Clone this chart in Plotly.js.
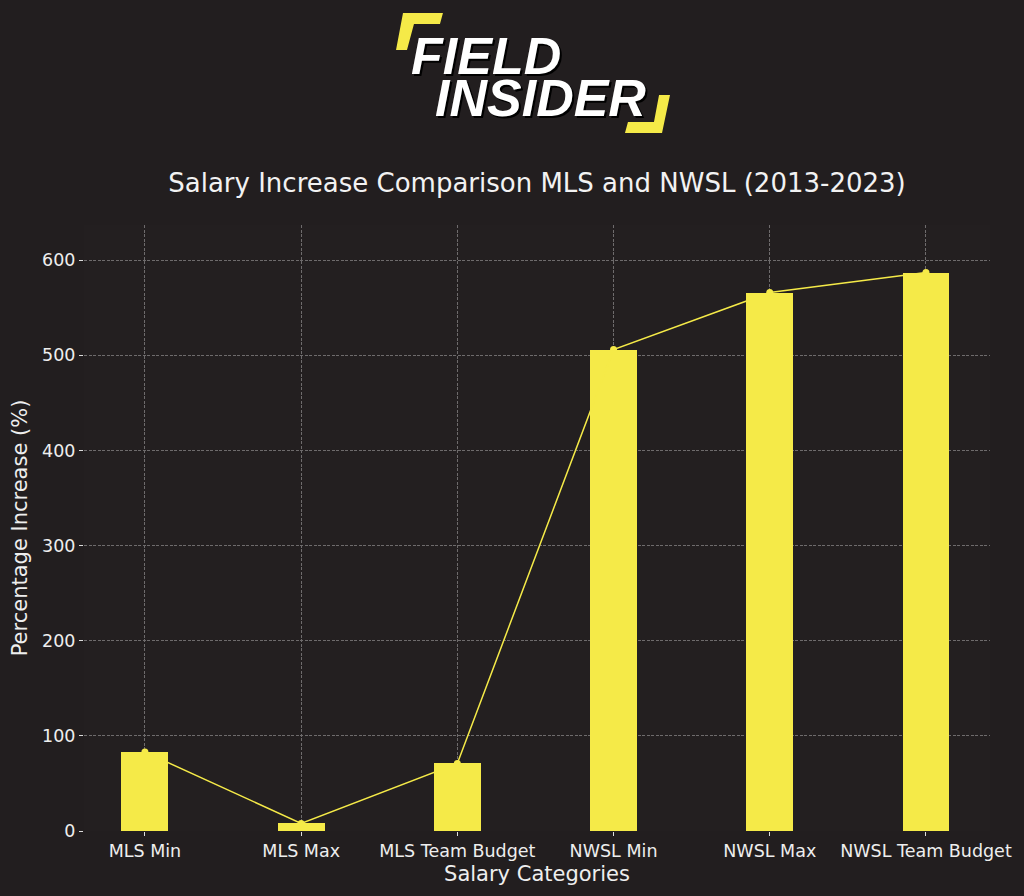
<!DOCTYPE html>
<html>
<head>
<meta charset="utf-8">
<script src="https://cdn.plot.ly/plotly-3.0.1.min.js"></script>
<style>html,body{margin:0;padding:0;background:#221e1f;}#chart{width:1024px;height:896px;}</style>
</head>
<body>
<div id="chart"></div>
<script>
const categories = ["MLS Min", "MLS Max", "MLS Team Budget", "NWSL Min", "NWSL Max", "NWSL Team Budget"];
const percentIncrease = [83, 8, 71, 506, 566, 587];
const yTicks = [0, 100, 200, 300, 400, 500, 600];
const logoLines = ["FIELD", "INSIDER"];

const YELLOW = "#f5ea48";
const W = 1024, H = 896;
const M = {l: 84, r: 34, t: 225, b: 65};
const PW = W - M.l - M.r, PH = H - M.t - M.b;
function px(x) { return (x - M.l) / PW; }
function py(y) { return (H - M.b - y) / PH; }
function poly(pts) {
  return "M" + pts.map(p => px(p[0]).toFixed(4) + "," + py(p[1]).toFixed(4)).join(" L") + " Z";
}

const bars = {
  type: "bar",
  x: categories,
  y: percentIncrease,
  width: 0.3,
  marker: {color: YELLOW, line: {width: 0}},
  hoverinfo: "x+y",
  showlegend: false
};
const line = {
  type: "scatter",
  mode: "lines+markers",
  x: categories,
  y: percentIncrease,
  line: {color: YELLOW, width: 1.5},
  marker: {color: YELLOW, size: 7},
  showlegend: false
};

const logoFont = {family: "Liberation Sans", size: 52, weight: 900, style: "italic", color: "#ffffff",
                  shadow: "2px 2px 0px #000000"};
const GRID = "#6e6b6c";
const layout = {
  width: W, height: H,
  paper_bgcolor: "#221e1f",
  plot_bgcolor: "#231f20",
  margin: M,
  font: {family: "DejaVu Sans", color: "#eeeeee"},
  title: {
    text: "Salary Increase Comparison MLS and NWSL (2013-2023)",
    font: {family: "DejaVu Sans", size: 26, color: "#f2f2f2"},
    x: 0.5, xref: "paper", xanchor: "center",
    y: 1 - 183 / H, yref: "container", yanchor: "middle"
  },
  xaxis: {
    type: "category",
    range: [-0.39, 5.41],
    showgrid: true,
    gridcolor: GRID,
    griddash: "3px,1.5px",
    gridwidth: 1,
    ticks: "outside", ticklen: 4, tickcolor: "#dddddd",
    tickfont: {size: 17.5, color: "#eeeeee"},
    showline: false, zeroline: false,
    title: {text: "Salary Categories", font: {size: 21, color: "#eeeeee"}, standoff: 6}
  },
  yaxis: {
    range: [0, 637],
    tickvals: yTicks,
    showgrid: true,
    gridcolor: GRID,
    griddash: "3px,1.5px",
    gridwidth: 1,
    ticks: "outside", ticklen: 4, tickcolor: "#dddddd",
    tickfont: {size: 17.5, color: "#eeeeee"},
    showline: false, zeroline: false,
    title: {text: "Percentage Increase (%)", font: {size: 21, color: "#eeeeee"}, standoff: 8}
  },
  bargap: 0,
  annotations: [
    {text: logoLines[0], xref: "paper", yref: "paper", x: px(486), y: py(56),
     xanchor: "center", yanchor: "middle", showarrow: false, font: logoFont},
    {text: logoLines[1], xref: "paper", yref: "paper", x: px(540), y: py(98),
     xanchor: "center", yanchor: "middle", showarrow: false, font: logoFont}
  ],
  shapes: [
    {type: "path", xref: "paper", yref: "paper", layer: "above",
     path: poly([[403,13],[443,13],[440,24],[414,24],[407,50],[396,50]]),
     fillcolor: YELLOW, line: {width: 0}},
    {type: "path", xref: "paper", yref: "paper", layer: "above",
     path: poly([[659,95],[670,95],[662,133],[625,133],[628,122],[654,122]]),
     fillcolor: YELLOW, line: {width: 0}}
  ]
};

Plotly.newPlot("chart", [bars, line], layout, {displayModeBar: false, staticPlot: true});
</script>
</body>
</html>
